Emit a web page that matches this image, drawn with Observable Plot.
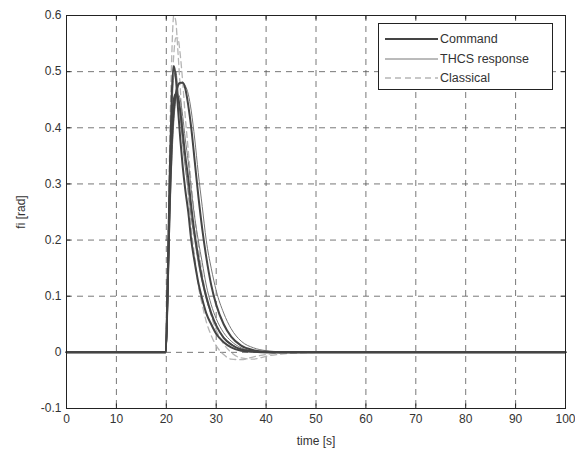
<!DOCTYPE html>
<html>
<head>
<meta charset="utf-8">
<script src="https://cdn.jsdelivr.net/npm/d3@7"></script>
<script src="https://cdn.jsdelivr.net/npm/@observablehq/plot@0.6"></script>
<style>
  body { margin: 0; background: #fff; }
  #wrap { position: relative; width: 575px; height: 451px; font-family: "Liberation Sans", Arial, sans-serif; }
  #legend { position: absolute; left: 378px; top: 23px; width: 175px; height: 67px; border: 1px solid #222; background: #fff; box-sizing: border-box; }
  #legend .row { position: absolute; left: 6px; height: 16px; display: flex; align-items: center; font-size: 12.5px; color: #333; }
  #legend svg { margin-right: 2px; }
</style>
</head>
<body>
<div id="wrap"></div>
<script>
const time = [0,19.9,20.3,20.7,21.1,21.5,21.9,22.3,22.8,23.3,23.8,24.4,25,25.7,26.4,27.2,28,29,30,31.5,33,35,37.5,40,43,47,52,60,100];

const command1 = [0,0,0.14,0.32,0.46,0.51,0.49,0.44,0.38,0.33,0.29,0.25,0.2,0.16,0.125,0.095,0.07,0.05,0.033,0.018,0.009,0.003,0.001,0,0,0,0,0,0];
const command2 = [0,0,0.12,0.27,0.37,0.43,0.46,0.475,0.48,0.48,0.47,0.44,0.40,0.34,0.28,0.22,0.17,0.12,0.085,0.05,0.028,0.012,0.004,0.001,0,0,0,0,0];
const command3 = [0,0,0.13,0.3,0.41,0.45,0.46,0.455,0.43,0.39,0.35,0.31,0.26,0.21,0.17,0.13,0.1,0.07,0.048,0.026,0.014,0.005,0.002,0,0,0,0,0,0];

const thcs1 = [0,0,0.1,0.27,0.42,0.49,0.5,0.47,0.42,0.37,0.33,0.29,0.24,0.2,0.16,0.125,0.095,0.068,0.047,0.027,0.015,0.006,0.002,0,0,0,0,0,0];
const thcs2 = [0,0,0.09,0.23,0.34,0.41,0.45,0.47,0.48,0.48,0.475,0.46,0.43,0.38,0.32,0.26,0.2,0.15,0.11,0.07,0.042,0.02,0.008,0.003,0.001,0,0,0,0];
const thcs3 = [0,0,0.1,0.25,0.37,0.43,0.455,0.46,0.45,0.42,0.38,0.34,0.29,0.24,0.2,0.16,0.12,0.085,0.06,0.035,0.02,0.008,0.003,0.001,0,0,0,0,0];

const classical1 = [0,0,0.16,0.38,0.53,0.6,0.59,0.54,0.47,0.4,0.34,0.28,0.22,0.17,0.12,0.085,0.055,0.03,0.012,-0.004,-0.012,-0.013,-0.008,-0.004,-0.001,0,0,0,0];
const classical2 = [0,0,0.13,0.32,0.46,0.53,0.56,0.56,0.53,0.48,0.42,0.36,0.3,0.24,0.19,0.14,0.1,0.065,0.04,0.015,0,-0.01,-0.012,-0.007,-0.003,-0.001,0,0,0];

const xTicks = [0,10,20,30,40,50,60,70,80,90,100];
const yTicks = [-0.1,0,0.1,0.2,0.3,0.4,0.5,0.6];
const legendLabels = ["Command","THCS response","Classical"];

function toRows(vals, id) { return time.map((t, i) => ({t, v: vals[i], id})); }
const commandRows = [toRows(command1,"c1"), toRows(command2,"c2"), toRows(command3,"c3")].flat();
const thcsRows = [toRows(thcs1,"t1"), toRows(thcs2,"t2"), toRows(thcs3,"t3")].flat();
const classicalRows = [toRows(classical1,"k1"), toRows(classical2,"k2")].flat();

const yFmt = d => String(Math.round(d * 10) / 10);

const chart = Plot.plot({
  width: 575,
  height: 451,
  marginLeft: 66,
  marginRight: 10,
  marginTop: 15,
  marginBottom: 43,
  style: { fontFamily: "'Liberation Sans', Arial, sans-serif", fontSize: "12px", color: "#333", background: "#fff" },
  x: { domain: [0, 100] },
  y: { domain: [-0.1, 0.6] },
  marks: [
    Plot.gridX(xTicks, { stroke: "#555", strokeOpacity: 1, strokeDasharray: "6,5", strokeWidth: 0.8 }),
    Plot.gridY(yTicks, { stroke: "#555", strokeOpacity: 1, strokeDasharray: "6,5", strokeWidth: 0.8 }),
    Plot.ruleX(xTicks, { x: d => d, y1: -0.1, y2: -0.092, stroke: "#222" }),
    Plot.ruleX(xTicks, { x: d => d, y1: 0.6, y2: 0.592, stroke: "#222" }),
    Plot.ruleY(yTicks, { y: d => d, x1: 0, x2: 0.9, stroke: "#222" }),
    Plot.ruleY(yTicks, { y: d => d, x1: 100, x2: 99.1, stroke: "#222" }),
    Plot.line(classicalRows, { x: "t", y: "v", z: "id", stroke: "#b5b5b5", strokeWidth: 1.3, strokeDasharray: "6,4", curve: "monotone-x" }),
    Plot.line(thcsRows, { x: "t", y: "v", z: "id", stroke: "#777", strokeWidth: 1, curve: "monotone-x" }),
    Plot.line(commandRows, { x: "t", y: "v", z: "id", stroke: "#444", strokeWidth: 2, curve: "monotone-x" }),
    Plot.axisX(xTicks, { tickSize: 0, tickPadding: 6, label: "time [s]", labelAnchor: "center", labelArrow: "none", labelOffset: 36, fill: "#333" }),
    Plot.axisY(yTicks, { tickSize: 0, tickPadding: 5, tickFormat: yFmt, label: "fi [rad]", labelAnchor: "center", labelArrow: "none", labelOffset: 50, fill: "#333" }),
    Plot.frame({ stroke: "#222" })
  ]
});

const wrap = document.getElementById("wrap");
wrap.appendChild(chart);

const legend = document.createElement("div");
legend.id = "legend";
const styles = [
  { stroke: "#444", width: 2, dash: "" },
  { stroke: "#777", width: 1, dash: "" },
  { stroke: "#b5b5b5", width: 1.3, dash: "6,4" }
];
legendLabels.forEach((lab, i) => {
  const row = document.createElement("div");
  row.className = "row";
  row.style.top = (7 + i * 19.5) + "px";
  const s = styles[i];
  row.innerHTML = `<svg width="53" height="10"><line x1="0" y1="5" x2="53" y2="5" stroke="${s.stroke}" stroke-width="${s.width}" ${s.dash ? `stroke-dasharray="${s.dash}"` : ""}/></svg><span>${lab}</span>`;
  legend.appendChild(row);
});
wrap.appendChild(legend);
</script>
</body>
</html>
